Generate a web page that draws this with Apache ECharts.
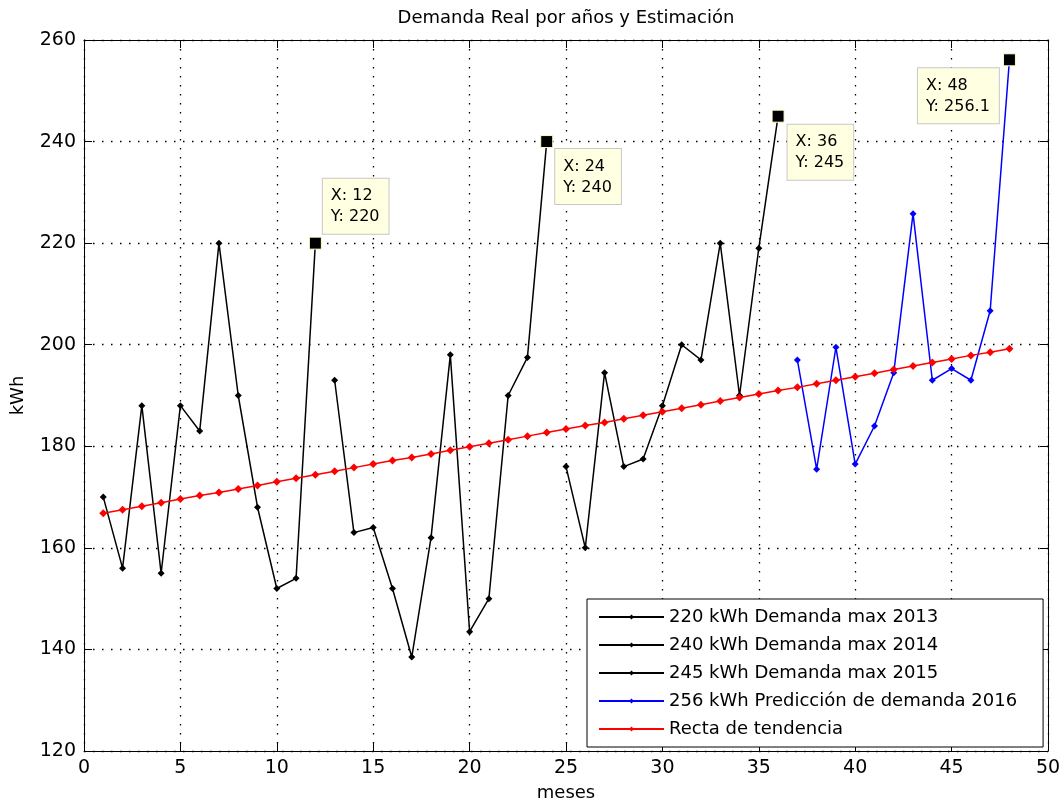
<!DOCTYPE html>
<html>
<head>
<meta charset="utf-8">
<script src="https://cdn.jsdelivr.net/npm/echarts@6/dist/echarts.min.js"></script>
<style>
  html, body { margin: 0; padding: 0; background: #fff; }
  #chart { width: 1064px; height: 807px; }
</style>
</head>
<body>
<div id="chart"></div>
<script>
// meses de cada año
const meses2013 = [1, 2, 3, 4, 5, 6, 7, 8, 9, 10, 11, 12];
const meses2014 = [13, 14, 15, 16, 17, 18, 19, 20, 21, 22, 23, 24];
const meses2015 = [25, 26, 27, 28, 29, 30, 31, 32, 33, 34, 35, 36];
const meses2016 = [37, 38, 39, 40, 41, 42, 43, 44, 45, 46, 47, 48];
const mesesTodos = [1, 2, 3, 4, 5, 6, 7, 8, 9, 10, 11, 12, 13, 14, 15, 16, 17, 18, 19, 20, 21, 22, 23, 24,
  25, 26, 27, 28, 29, 30, 31, 32, 33, 34, 35, 36, 37, 38, 39, 40, 41, 42, 43, 44, 45, 46, 47, 48];

// demanda (kWh)
const demanda2013 = [170, 156, 188, 155, 188, 183, 220, 190, 168, 152, 154, 220];
const demanda2014 = [193, 163, 164, 152, 138.5, 162, 198, 143.5, 150, 190, 197.5, 240];
const demanda2015 = [176, 160, 194.5, 176, 177.5, 188, 200, 197, 220, 190, 219, 245];
const prediccion2016 = [197, 175.5, 199.5, 176.5, 184, 194.5, 225.8, 193, 195.3, 193, 206.7, 256.1];
const tendencia = [166.8, 167.5, 168.2, 168.9, 169.6, 170.3, 170.9, 171.6, 172.3, 173.0, 173.7, 174.4,
  175.1, 175.8, 176.5, 177.2, 177.8, 178.5, 179.2, 179.9, 180.6, 181.3, 182.0, 182.7,
  183.4, 184.1, 184.7, 185.4, 186.1, 186.8, 187.5, 188.2, 188.9, 189.6, 190.3, 191.0,
  191.6, 192.3, 193.0, 193.7, 194.4, 195.1, 195.8, 196.5, 197.2, 197.9, 198.5, 199.2];

const nombres = [
  '220 kWh Demanda max 2013',
  '240 kWh Demanda max 2014',
  '245 kWh Demanda max 2015',
  '256 kWh Predicción de demanda 2016',
  'Recta de tendencia'
];

// puntos con data tip (maximo de cada año)
const tipX = [12, 24, 36, 48];
const tipY = [220, 240, 245, 256.1];

const FONT = 'DejaVu Sans';
const pares = (xs, ys) => xs.map((x, i) => [x, ys[i]]);

const linea = (name, xs, ys, color, size) => ({
  name: name,
  type: 'line',
  data: pares(xs, ys),
  symbol: 'diamond',
  symbolSize: size,
  showSymbol: true,
  lineStyle: { color: color, width: 1.5 },
  itemStyle: { color: color },
  z: 3
});

// posicion de cada cuadro amarillo respecto al punto
const tipPos = [[14, -58], [15, 14], [16, 15], [-85, 15]];

const chart = echarts.init(document.getElementById('chart'));
chart.setOption({
  animation: false,
  backgroundColor: '#fff',
  title: {
    text: 'Demanda Real por años y Estimación',
    left: 566,
    textAlign: 'center',
    top: 9,
    padding: 0,
    textStyle: { fontFamily: FONT, fontSize: 18, fontWeight: 'normal', color: '#000' }
  },
  grid: { left: 84, right: 16, top: 40, bottom: 52, containLabel: false },
  legend: {
    orient: 'vertical',
    left: 587,
    top: 599,
    data: nombres,
    itemWidth: 65,
    itemHeight: 6,
    itemGap: 10,
    padding: [9, 26, 9, 11],
    backgroundColor: '#fff',
    borderColor: '#000',
    borderWidth: 1,
    borderRadius: 0,
    textStyle: { fontFamily: FONT, fontSize: 18, color: '#000' },
    selectedMode: false
  },
  xAxis: [
    {
      type: 'value', min: 0, max: 50, interval: 5,
      name: 'meses', nameLocation: 'middle', nameGap: 33,
      nameTextStyle: { fontFamily: FONT, fontSize: 18, color: '#000' },
      axisLine: { show: true, onZero: false, lineStyle: { color: '#000', width: 1 } },
      axisTick: { show: true, inside: true, length: 8, lineStyle: { color: '#000' } },
      axisLabel: { fontFamily: FONT, fontSize: 19, color: '#000', margin: 8 },
      splitLine: { show: true, lineStyle: { color: '#000', width: 1.3, type: [1.5, 7.5] } }
    },
    {
      type: 'value', min: 0, max: 50, interval: 5, position: 'top',
      axisLine: { show: true, onZero: false, lineStyle: { color: '#000', width: 1 } },
      axisTick: { show: true, inside: true, length: 8, lineStyle: { color: '#000' } },
      axisLabel: { show: false },
      splitLine: { show: false }
    }
  ],
  yAxis: [
    {
      type: 'value', min: 120, max: 260, interval: 20,
      name: 'kWh', nameLocation: 'middle', nameGap: 57, nameRotate: 90,
      nameTextStyle: { fontFamily: FONT, fontSize: 18, color: '#000' },
      axisLine: { show: true, onZero: false, lineStyle: { color: '#000', width: 1 } },
      axisTick: { show: true, inside: true, length: 8, lineStyle: { color: '#000' } },
      axisLabel: { fontFamily: FONT, fontSize: 19, color: '#000', margin: 8 },
      splitLine: { show: true, lineStyle: { color: '#000', width: 1.3, type: [1.5, 7.5] } }
    },
    {
      type: 'value', min: 120, max: 260, interval: 20, position: 'right',
      axisLine: { show: true, onZero: false, lineStyle: { color: '#000', width: 1 } },
      axisTick: { show: true, inside: true, length: 8, lineStyle: { color: '#000' } },
      axisLabel: { show: false },
      splitLine: { show: false }
    }
  ],
  series: [
    linea(nombres[0], meses2013, demanda2013, '#000', 7),
    linea(nombres[1], meses2014, demanda2014, '#000', 7),
    linea(nombres[2], meses2015, demanda2015, '#000', 7),
    linea(nombres[3], meses2016, prediccion2016, '#0000ff', 7),
    linea(nombres[4], mesesTodos, tendencia, '#ff0000', 8),
    {
      name: 'datatips',
      type: 'scatter',
      symbol: 'rect',
      symbolSize: 12,
      itemStyle: { color: '#000', borderColor: '#ffffc8', borderWidth: 1, opacity: 1 },
      z: 10,
      data: tipX.map((x, i) => ({
        value: [x, tipY[i]],
        label: { position: tipPos[i] }
      })),
      label: {
        show: true,
        formatter: (p) => 'X: ' + p.value[0] + '\nY: ' + p.value[1],
        fontFamily: FONT,
        fontSize: 16,
        lineHeight: 21,
        color: '#000',
        backgroundColor: '#ffffe1',
        borderColor: '#c8c8c8',
        borderWidth: 1,
        padding: [7, 9, 6, 8]
      }
    }
  ]
});
</script>
</body>
</html>
